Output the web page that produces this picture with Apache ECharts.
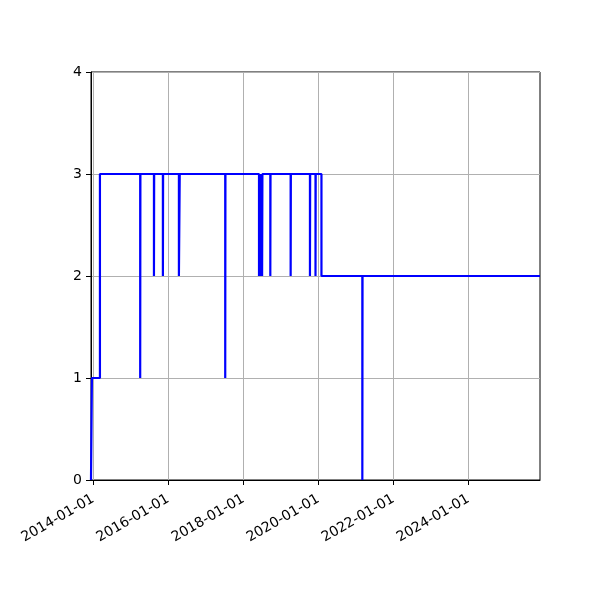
<!DOCTYPE html>
<html>
<head>
<meta charset="utf-8">
<script src="https://cdn.jsdelivr.net/npm/echarts@6/dist/echarts.min.js"></script>
<style>html,body{margin:0;padding:0;background:#fff}#c{width:600px;height:600px}</style>
</head>
<body>
<div id="c"></div>
<script>
const dates = ['2013-12-10','2013-12-19','2014-03-07','2015-04-03','2015-04-05','2015-08-15','2015-08-17','2015-11-10','2015-11-12','2016-04-14','2016-04-22','2017-07-09','2017-07-11','2018-06-03','2018-06-07','2018-06-13','2018-06-17','2018-06-23','2018-06-27','2018-07-03','2018-07-06','2018-09-21','2018-09-23','2019-04-07','2019-04-09','2019-10-12','2019-10-14','2019-12-05','2019-12-07','2020-02-01','2021-03-05','2021-03-07','2025-11-29'];
const values = [0,1,3,1,3,2,3,2,3,2,3,1,3,2,3,2,3,2,3,2,3,2,3,2,3,2,3,2,3,2,0,2,2];
const xTicks = ['2014-01-01','2016-01-01','2018-01-01','2020-01-01','2022-01-01','2024-01-01'];
const yTicks = [0,1,2,3,4];

const t = s => { const [y,m,d] = s.split('-').map(Number); return new Date(y, m-1, d).getTime(); };
const pad = n => (n < 10 ? '0' : '') + n;
const fmt = v => { const d = new Date(v); return d.getFullYear() + '-' + pad(d.getMonth()+1) + '-' + pad(d.getDate()); };

const chart = echarts.init(document.getElementById('c'), null, {renderer: 'canvas'});
const font = 'DejaVu Sans';
chart.setOption({
  animation: false,
  grid: {left: 91, right: 60, top: 72, bottom: 120, show: true, borderColor: '#000', borderWidth: 1, backgroundColor: 'transparent'},
  xAxis: {
    type: 'value',
    min: t(dates[0]),
    max: t(dates[dates.length-1]),
    axisLine: {lineStyle: {color: '#000', width: 1}},
    axisTick: {show: true, length: 5, lineStyle: {color: '#000'}, customValues: xTicks.map(t)},
    axisLabel: {customValues: xTicks.map(t), formatter: v => fmt(v), rotate: 30, color: '#000', fontFamily: font, fontSize: 14, margin: 18, hideOverlap: false},
    splitLine: {show: true, lineStyle: {color: '#b0b0b0', width: 1}}
  },
  yAxis: {
    type: 'value',
    min: 0, max: 4, interval: 1,
    axisLine: {show: true, lineStyle: {color: '#000', width: 1}},
    axisTick: {show: true, length: 5, lineStyle: {color: '#000'}, customValues: yTicks},
    axisLabel: {customValues: yTicks, color: '#000', fontFamily: font, fontSize: 14, margin: 9, formatter: v => String(v)},
    splitLine: {show: true, lineStyle: {color: '#b0b0b0', width: 1}}
  },
  series: [{
    type: 'line',
    step: 'end',
    showSymbol: false,
    data: dates.map((d, i) => [t(d), values[i]]),
    lineStyle: {color: '#0000ff', width: 2.2},
    itemStyle: {color: '#0000ff'},
    clip: true
  }]
});
</script>
</body>
</html>
